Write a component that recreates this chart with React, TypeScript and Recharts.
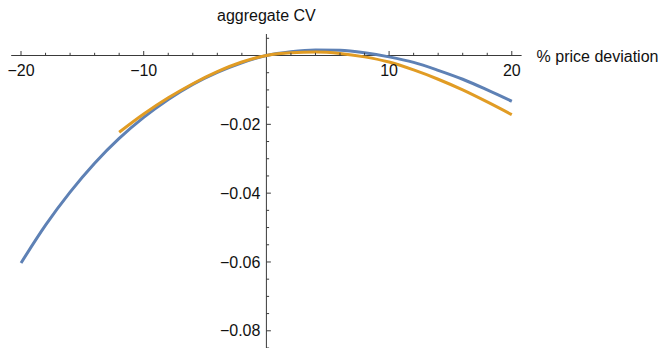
import React from "react";
import { LineChart, Line, XAxis, YAxis, ReferenceLine, ReferenceDot } from "recharts";

const xValues = [-20, -18, -16, -14, -12, -10, -8, -6, -4, -2, 0, 2, 4, 6, 8, 10, 12, 14, 16, 18, 20];
const blueValues = [-0.0603, -0.0493, -0.0397, -0.0313, -0.0241, -0.018, -0.0128, -0.0084, -0.0049, -0.0021, 0, 0.0011, 0.0016, 0.0015, 0.0008, -0.0004, -0.002, -0.0043, -0.0069, -0.01, -0.0133];
const orangeValues: (number | null)[] = [null, null, null, null, -0.0223, -0.017, -0.0123, -0.0082, -0.0047, -0.0019, 0, 0.0008, 0.001, 0.0006, -0.0004, -0.0019, -0.0042, -0.0069, -0.01, -0.0135, -0.0172];

const xMajorTicks = [-20, -10, 10, 20];
const xTickLabels = ["\u221220", "\u221210", "10", "20"];
const xMinorTicks = [-18, -16, -14, -12, -8, -6, -4, -2, 2, 4, 6, 8, 12, 14, 16, 18];
const yMajorTicks = [-0.02, -0.04, -0.06, -0.08];
const yTickLabels = ["\u22120.02", "\u22120.04", "\u22120.06", "\u22120.08"];
const yMinorTicks = [0.005, -0.005, -0.01, -0.015, -0.025, -0.03, -0.035, -0.045, -0.05, -0.055, -0.065, -0.07, -0.075, -0.085];

const xAxisLabel = "% price deviation";
const yAxisLabel = "aggregate CV";

const data = xValues.map((x, i) => ({ x, blue: blueValues[i], orange: orangeValues[i] }));

const AXIS = "#3a3a3a";
const TEXT = "#111";
const FONT = "'Liberation Sans', Arial, Helvetica, sans-serif";
const FS = 16;

export default function App() {
  return (
    <div style={{ position: "absolute", left: 0, top: 0 }}>
      <LineChart
        width={663}
        height={348}
        data={data}
        margin={{ top: 34, right: 141.4, bottom: 0, left: 11.2 }}
        style={{ fontFamily: FONT }}
      >
        <XAxis dataKey="x" type="number" domain={[-20.8, 20.8]} hide />
        <YAxis type="number" domain={[-0.085, 0.00625]} hide />
        <ReferenceLine y={0} stroke={AXIS} strokeWidth={1} />
        <ReferenceLine x={0} stroke={AXIS} strokeWidth={1} />
        {xMinorTicks.map((t) => (
          <ReferenceDot
            key={"xm" + t}
            x={t}
            y={0}
            r={0}
            shape={(p: any) => (
              <line x1={p.cx} y1={p.cy} x2={p.cx} y2={p.cy - 2.7} stroke={AXIS} strokeWidth={1} />
            )}
          />
        ))}
        {xMajorTicks.map((t, i) => (
          <ReferenceDot
            key={"xM" + t}
            x={t}
            y={0}
            r={0}
            shape={(p: any) => (
              <g>
                <line x1={p.cx} y1={p.cy} x2={p.cx} y2={p.cy - 4.5} stroke={AXIS} strokeWidth={1} />
                <text x={p.cx} y={p.cy + 20.5} textAnchor="middle" fontSize={FS} fill={TEXT} fontFamily={FONT}>
                  {xTickLabels[i]}
                </text>
              </g>
            )}
          />
        ))}
        {yMinorTicks.map((t) => (
          <ReferenceDot
            key={"ym" + t}
            x={0}
            y={t}
            r={0}
            shape={(p: any) => (
              <line x1={p.cx} y1={p.cy} x2={p.cx + 2.7} y2={p.cy} stroke={AXIS} strokeWidth={1} />
            )}
          />
        ))}
        {yMajorTicks.map((t, i) => (
          <ReferenceDot
            key={"yM" + t}
            x={0}
            y={t}
            r={0}
            shape={(p: any) => (
              <g>
                <line x1={p.cx} y1={p.cy} x2={p.cx + 4.5} y2={p.cy} stroke={AXIS} strokeWidth={1} />
                <text x={p.cx - 6} y={p.cy + 5.7} textAnchor="end" fontSize={FS} fill={TEXT} fontFamily={FONT}>
                  {yTickLabels[i]}
                </text>
              </g>
            )}
          />
        ))}
        <ReferenceDot
          x={20.8}
          y={0}
          r={0}
          shape={(p: any) => (
            <text x={p.cx + 15} y={p.cy + 6.5} textAnchor="start" fontSize={FS} fill={TEXT} fontFamily={FONT}>
              {xAxisLabel}
            </text>
          )}
        />
        <ReferenceDot
          x={0}
          y={0.00625}
          r={0}
          shape={(p: any) => (
            <text x={p.cx} y={p.cy - 13} textAnchor="middle" fontSize={FS} fill={TEXT} fontFamily={FONT}>
              {yAxisLabel}
            </text>
          )}
        />
        <Line
          dataKey="blue"
          type="monotone"
          stroke="#5E81B5"
          strokeWidth={3}
          dot={false}
          isAnimationActive={false}
        />
        <Line
          dataKey="orange"
          type="monotone"
          stroke="#E19C24"
          strokeWidth={3}
          dot={false}
          isAnimationActive={false}
        />
      </LineChart>
    </div>
  );
}
